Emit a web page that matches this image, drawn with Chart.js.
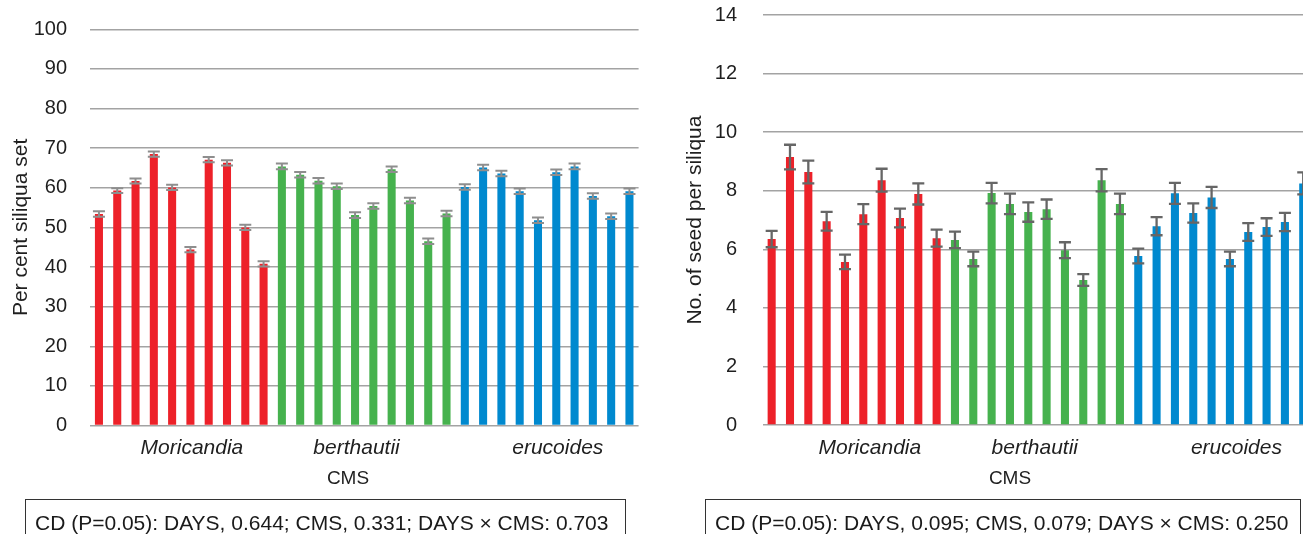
<!DOCTYPE html>
<html><head><meta charset="utf-8">
<script src="https://cdn.jsdelivr.net/npm/chart.js@4/dist/chart.umd.min.js"></script>
<style>
html,body{margin:0;padding:0;width:1303px;height:534px;overflow:hidden;background:#fff;font-family:'Liberation Sans',Arial,sans-serif;}
#leftWrap{position:absolute;left:0;top:0;width:655px;height:500px;}
#rightWrap{position:absolute;left:660px;top:0;width:660px;height:500px;}
.cd{position:absolute;top:499px;height:60px;border:1.5px solid #333;box-sizing:border-box;font-size:21px;line-height:24px;color:#1a1a1a;padding:10.5px 0 0 9px;white-space:nowrap;}
.xt{position:absolute;top:465.5px;width:120px;margin-left:-60px;text-align:center;font-size:19px;line-height:23px;color:#1f1f1f;}
</style></head><body>
<div id="leftWrap"><canvas id="c1" width="655" height="500"></canvas></div>
<div id="rightWrap"><canvas id="c2" width="660" height="500"></canvas></div>
<div class="xt" style="left:348px;">CMS</div>
<div class="xt" style="left:1010px;">CMS</div>
<div class="cd" style="left:25px;width:601px;">CD (P=0.05): DAYS, 0.644; CMS, 0.331; DAYS × CMS: 0.703</div>
<div class="cd" style="left:705px;width:596px;">CD (P=0.05): DAYS, 0.095; CMS, 0.079; DAYS × CMS: 0.250</div>
<script>
// ---- categories / tick labels ----
const xTickLabels = ['', '', '', '', '', 'Moricandia', '', '', '', '',
                     '', '', '', '', 'berthautii', '', '', '', '', '',
                     '', '', '', '', '', 'erucoides', '', '', '', ''];
const groupColors = ['#ED2129', '#46B24E', '#0089CF'];
const barsPerGroup = 10;

// ---- Left: per cent siliqua set ----
const setMoricandia = [53.4, 59.3, 61.7, 68.5, 60.1, 44.4, 67.1, 66.3, 50.0, 40.8];
const setBerthautii = [65.4, 63.3, 61.8, 60.4, 53.1, 55.4, 64.7, 56.8, 46.5, 53.5];
const setErucoides  = [60.2, 65.1, 63.6, 59.1, 51.8, 63.9, 65.4, 57.9, 52.8, 59.1];
const setErrMoricandia = [0.7, 0.6, 0.65, 0.65, 0.65, 0.65, 0.65, 0.65, 0.65, 0.65];
const setErrBerthautii = [0.7, 0.7, 0.7, 0.7, 0.7, 0.7, 0.7, 0.7, 0.7, 0.7];
const setErrErucoides  = [0.7, 0.7, 0.7, 0.7, 0.7, 0.7, 0.7, 0.7, 0.7, 0.7];

// ---- Right: no. of seed per siliqua ----
const seedMoricandia = [6.35, 9.15, 8.64, 6.96, 5.57, 7.20, 8.36, 7.07, 7.89, 6.38];
const seedBerthautii = [6.32, 5.67, 7.92, 7.55, 7.27, 7.37, 5.97, 4.95, 8.36, 7.55];
const seedErucoides  = [5.77, 6.79, 7.91, 7.24, 7.77, 5.67, 6.59, 6.76, 6.93, 8.25];
const seedErrMoricandia = [0.28, 0.42, 0.39, 0.32, 0.25, 0.34, 0.39, 0.32, 0.36, 0.29];
const seedErrBerthautii = [0.28, 0.25, 0.35, 0.35, 0.33, 0.33, 0.27, 0.20, 0.38, 0.35];
const seedErrErucoides  = [0.25, 0.31, 0.36, 0.33, 0.36, 0.25, 0.30, 0.30, 0.31, 0.375];

const barColors = [];
groupColors.forEach(c => { for (let i = 0; i < barsPerGroup; i++) barColors.push(c); });

const errorBarPlugin = {
  id: 'errorBars',
  afterDatasetsDraw(chart, args, opts) {
    const ctx = chart.ctx, ys = chart.scales.y;
    chart.data.datasets.forEach((ds, di) => {
      const meta = chart.getDatasetMeta(di);
      meta.data.forEach((bar, i) => {
        const v = ds.data[i], e = ds.errors[i];
        const yt = ys.getPixelForValue(v + e), yb = ys.getPixelForValue(v - e);
        const h = opts.cap / 2;
        ctx.save();
        ctx.strokeStyle = opts.color;
        ctx.lineWidth = opts.lineWidth;
        ctx.beginPath();
        ctx.moveTo(bar.x, yt); ctx.lineTo(bar.x, yb);
        ctx.moveTo(bar.x - h, yt); ctx.lineTo(bar.x + h, yt);
        ctx.moveTo(bar.x - h, yb); ctx.lineTo(bar.x + h, yb);
        ctx.stroke();
        ctx.restore();
      });
    });
  }
};

const FONT = "'Liberation Sans', Arial, sans-serif";
const TXT = '#1f1f1f';

function makeChart(id, values, errors, cfg) {
  return new Chart(document.getElementById(id), {
    type: 'bar',
    data: {
      labels: xTickLabels,
      datasets: [{
        data: values,
        errors: errors,
        backgroundColor: barColors,
        borderWidth: 0,
        barPercentage: 0.44,
        categoryPercentage: 1.0
      }]
    },
    options: {
      responsive: false,
      animation: false,
      devicePixelRatio: 1,
      layout: { padding: { top: cfg.top, right: cfg.right, left: 0, bottom: 0 } },
      plugins: {
        legend: { display: false },
        tooltip: { enabled: false },
        errorBars: { color: cfg.errColor, lineWidth: cfg.errWidth, cap: 12 }
      },
      scales: {
        x: {
          grid: { display: false, drawTicks: false },
          border: { display: false },
          ticks: {
            autoSkip: false, maxRotation: 0, minRotation: 0, padding: 10.5,
            labelOffset: cfg.labelOffset,
            color: TXT, font: { family: FONT, size: 21, style: 'italic' }
          },
          afterFit: s => { s.height = 500 - cfg.bottom; s.paddingLeft = 0; s.paddingRight = 0; }
        },
        y: {
          min: 0, max: cfg.max,
          grid: { color: '#a3a3a3', lineWidth: 1.5, drawTicks: false },
          border: { display: false },
          ticks: {
            stepSize: cfg.step, padding: cfg.tickPad, color: TXT,
            font: { family: FONT, size: 20 }
          },
          title: {
            display: true, text: cfg.yTitle, color: TXT,
            font: { family: FONT, size: 21 }, padding: { top: cfg.titlePad, bottom: 0 }
          },
          afterFit: s => { s.width = cfg.left; s.paddingTop = 0; s.paddingBottom = 0; }
        }
      }
    },
    plugins: [errorBarPlugin]
  });
}

makeChart('c1',
  setMoricandia.concat(setBerthautii, setErucoides),
  setErrMoricandia.concat(setErrBerthautii, setErrErucoides),
  { top: 29.3, right: 16.4, left: 89.8, bottom: 425.5, max: 100, step: 10,
    tickPad: 22.8, titlePad: 8.4, yTitle: 'Per cent siliqua set',
    errColor: '#8e8e8e', errWidth: 2, labelOffset: 1.5 });

makeChart('c2',
  seedMoricandia.concat(seedBerthautii, seedErucoides),
  seedErrMoricandia.concat(seedErrBerthautii, seedErrErucoides),
  { top: 15, right: 7.6, left: 102.5, bottom: 425, max: 14, step: 2,
    tickPad: 25.5, titlePad: 22.4, yTitle: 'No. of seed per siliqua',
    errColor: '#666666', errWidth: 2.3, labelOffset: 6.5 });
</script>
</body></html>
